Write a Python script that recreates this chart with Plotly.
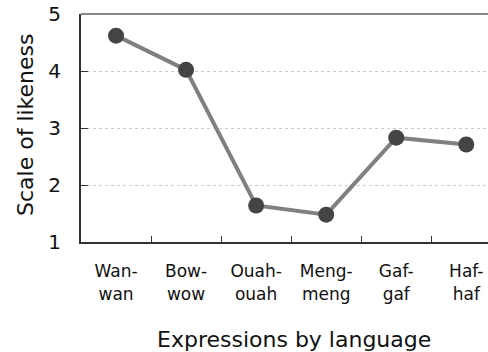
import plotly.graph_objects as go

categories = ["Wan-<br>wan", "Bow-<br>wow", "Ouah-<br>ouah", "Meng-<br>meng", "Gaf-<br>gaf", "Haf-<br>haf"]
likeness = [4.62, 4.02, 1.64, 1.48, 2.83, 2.71]
y_ticks = [1, 2, 3, 4, 5]

FONT = "DejaVu Sans"
DARK = "#333333"
TXT = "#111111"

fig = go.Figure()
fig.add_trace(go.Scatter(
    x=list(range(len(categories))), y=likeness, mode="lines+markers",
    line=dict(color="#808080", width=4),
    marker=dict(color="#444444", size=16),
    cliponaxis=False,
))

fig.update_layout(
    width=488, height=352,
    margin=dict(l=81, r=0, t=14, b=110, autoexpand=False),
    plot_bgcolor="white", paper_bgcolor="white",
    showlegend=False,
    font=dict(family=FONT, color=TXT),
    xaxis=dict(
        automargin=False,
        range=[-0.5, 5.31],
        tickmode="array", tickvals=list(range(len(categories))), ticktext=categories,
        ticks="", showgrid=False, zeroline=False,
        showline=True, linecolor=DARK, linewidth=2,
        tickfont=dict(size=17, family=FONT, color=TXT),
        ticklabelstandoff=13,
        minor=dict(tickmode="array", tickvals=[0.5, 1.5, 2.5, 3.5, 4.5],
                   ticks="inside", ticklen=6, tickcolor=DARK, tickwidth=1, showgrid=False),
    ),
    yaxis=dict(
        automargin=False,
        range=[1, 5], tickvals=y_ticks, ticktext=[str(v) for v in y_ticks],
        ticks="inside", ticklen=7, tickcolor=DARK, tickwidth=1,
        showgrid=True, gridcolor="#cccccc", griddash="dot", gridwidth=1,
        zeroline=False, showline=True, linecolor=DARK, linewidth=2,
        tickfont=dict(size=20, family=FONT, color=TXT),
        ticklabelstandoff=14,
    ),
    shapes=[dict(type="line", xref="paper", yref="paper", x0=0, x1=1, y0=1, y1=1,
                 line=dict(color="#888888", width=2))],
    annotations=[
        dict(text="Expressions by language", xref="paper", yref="paper",
             x=(294 - 81) / 407, y=-(339 - 242) / 228, xanchor="center", yanchor="middle",
             showarrow=False, font=dict(size=22, family=FONT, color=TXT)),
        dict(text="Scale of likeness", xref="paper", yref="paper",
             x=-(81 - 26) / 407, y=(242 - 125) / 228, xanchor="center", yanchor="middle", textangle=-90,
             showarrow=False, font=dict(size=22, family=FONT, color=TXT)),
    ],
)

fig.write_html("out.html", config={"displayModeBar": False},
               post_script="document.body.style.margin='0';")
